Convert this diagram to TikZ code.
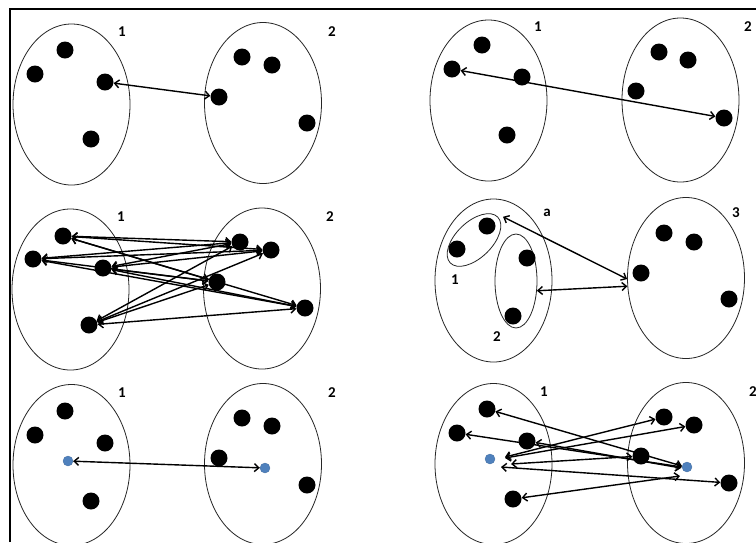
\documentclass[tikz,border=0pt]{standalone}
\usepackage{fontspec}
\setmainfont{Carlito}
\usetikzlibrary{shapes.geometric,arrows.meta}
\definecolor{bluedot}{RGB}{79,129,189}
\begin{document}
\begin{tikzpicture}[x=1pt,y=-1pt,
  set/.style={draw=black!85, ellipse, line width=0.8pt, inner sep=0pt, minimum width=117pt, minimum height=161pt},
  dot/.style={circle, fill=black, inner sep=0pt, minimum size=17pt},
  bdot/.style={circle, fill=bluedot, draw=bluedot!85!black, line width=0.3pt, inner sep=0pt, minimum size=10pt},
  lab/.style={font=\bfseries\fontsize{15}{15}\selectfont, inner sep=0pt},
  link/.style={line width=1.4pt, {Straight Barb[length=4.5pt,width=8pt]}-{Straight Barb[length=4.5pt,width=8pt]}}]
\useasboundingbox (0,0) rectangle (756,542);
\clip (0,0) rectangle (756,542);
\fill[white] (0,0) rectangle (756,542);
% frame
\draw[line width=2pt] (10,542) -- (10,9) -- (757,9);

% ---------- panel 1 ----------
\node[set] (A1) at (71.5,104.5) {};
\node[set] (A2) at (263,103) {};
\node[dot] (a11) at (65,50) {};
\node[dot] (a12) at (35,74) {};
\node[dot] (a13) at (105,82) {};
\node[dot] (a14) at (91,139) {};
\node[dot] (a21) at (242,57) {};
\node[dot] (a22) at (272,65) {};
\node[dot] (a23) at (219,97) {};
\node[dot] (a24) at (307,123) {};
\node[lab] (la1) at (122,32) {1};
\node[lab] (la2) at (332,32) {2};
\draw[link] (a13) -- (a23);

% ---------- panel 2 ----------
\node[set] (B1) at (488.5,100.5) {};
\node[set, minimum height=164pt] (B2) at (680.5,100) {};
\node[dot] (b11) at (482,45) {};
\node[dot] (b12) at (452,69) {};
\node[dot] (b13) at (522,77) {};
\node[dot] (b14) at (507,135) {};
\node[dot] (b21) at (659,52) {};
\node[dot] (b22) at (688,60) {};
\node[dot] (b23) at (636,91) {};
\node[dot] (b24) at (724,118) {};
\node[lab] (lb1) at (538,27) {1};
\node[lab] (lb2) at (748,27) {2};
\draw[link] (b12) -- (b24);

% ---------- panel 3 ----------
\node[set] (C1) at (70.5,289.5) {};
\node[set] (C2) at (262,288.5) {};
\node[dot] (c11) at (63,236) {};
\node[dot] (c12) at (33,259) {};
\node[dot] (c13) at (103,268) {};
\node[dot] (c14) at (89,325) {};
\node[dot] (c21) at (240,242) {};
\node[dot] (c22) at (271,250) {};
\node[dot] (c23) at (217,282) {};
\node[dot] (c24) at (305,308) {};
\node[lab] (lc1) at (121,217) {1};
\node[lab] (lc2) at (330,217) {2};
\foreach \i in {1,...,4}{\foreach \j in {1,...,4}{\draw[link] (c1\i) -- (c2\j);}}

% ---------- panel 4 ----------
\node[set, minimum height=163pt] (D1) at (493.5,280.5) {};
\node[set] (D2) at (686,278) {};
\node[draw=black!85, ellipse, line width=0.8pt, inner sep=0pt, minimum width=66pt, minimum height=36pt, rotate=44] (Ds1) at (474,240) {};
\node[draw=black!85, ellipse, line width=0.8pt, inner sep=0pt, minimum width=42pt, minimum height=94pt] (Ds2) at (516,281) {};
\node[dot] (d11) at (487,226) {};
\node[dot] (d12) at (457,249) {};
\node[dot] (d13) at (527,258) {};
\node[dot] (d14) at (513,316) {};
\node[dot] (d21) at (664,233) {};
\node[dot] (d22) at (694,242) {};
\node[dot] (d23) at (641,273) {};
\node[dot] (d24) at (729,299) {};
\node[lab] (lda) at (547,213) {a};
\node[lab] (ld3) at (736,213) {3};
\node[lab] (ld1) at (455,280) {1};
\node[lab] (ld2) at (497,337) {2};
\draw[link] ([xshift=5pt]Ds1.east) -- (D2.181);
\draw[link] (Ds2.-25) -- (D2.188);

% ---------- panel 5 ----------
\node[set] (E1) at (71.5,465) {};
\node[set] (E2) at (263,464) {};
\node[dot] (e11) at (65,411) {};
\node[dot] (e12) at (35,435) {};
\node[dot] (e13) at (105,443) {};
\node[dot] (e14) at (91,501) {};
\node[bdot] (eb1) at (68,461) {};
\node[dot] (e21) at (242,418) {};
\node[dot] (e22) at (272,426) {};
\node[dot] (e23) at (219,458) {};
\node[dot] (e24) at (307,485) {};
\node[bdot] (eb2) at (265,468) {};
\node[lab] (le1) at (122,393) {1};
\node[lab] (le2) at (332,393) {2};
\draw[link] (eb1) -- (eb2);

% ---------- panel 6 ----------
\node[set] (F1) at (493.5,464) {};
\node[set] (F2) at (686,463) {};
\node[dot] (f11) at (487,409) {};
\node[dot] (f12) at (457,433) {};
\node[dot] (f13) at (527,441) {};
\node[dot] (f14) at (513,499) {};
\node[bdot] (fb1) at (490,459) {};
\node[dot] (f21) at (664,417) {};
\node[dot] (f22) at (694,425) {};
\node[dot] (f23) at (641,456) {};
\node[dot] (f24) at (729,483) {};
\node[bdot] (fb2) at (687,467) {};
\node[lab] (lf1) at (544,392) {1};
\node[lab] (lf2) at (753,392) {2};
\draw[link] ([shift={(15,-2)}]fb1.center) -- (f21);
\draw[link] ([shift={(15,-1)}]fb1.center) -- (f22);
\draw[link] ([shift={(21,5)}]fb1.center) -- (f23);
\draw[link] ([shift={(11,8)}]fb1.center) -- (f24);
\draw[link] (f11) -- ([shift={(-5,-1)}]fb2.center);
\draw[link] (f12) -- ([shift={(-5,0)}]fb2.center);
\draw[link] (f13) -- ([shift={(-6,1)}]fb2.center);
\draw[link] (f14) -- ([shift={(-7,9)}]fb2.center);
\end{tikzpicture}
\end{document}
